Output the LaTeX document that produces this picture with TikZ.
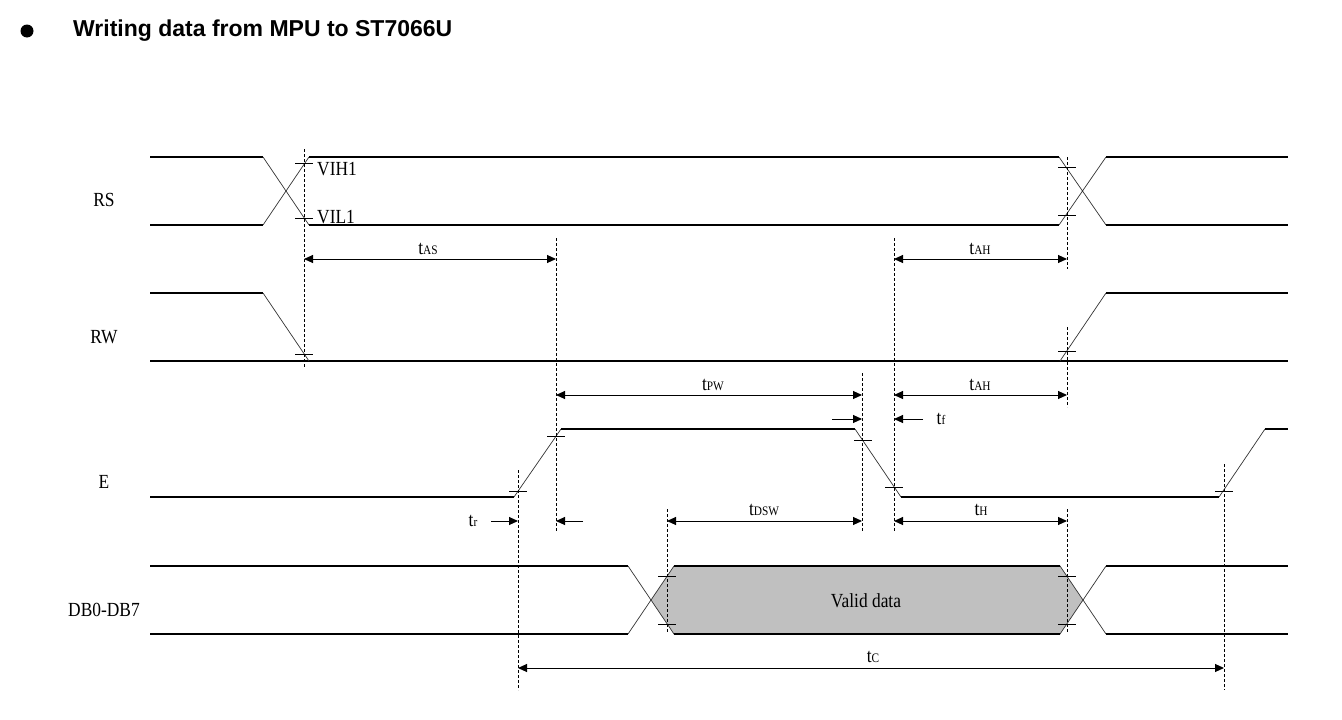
\documentclass[tikz,border=0pt]{standalone}
\usepackage{fontspec}
\usepackage{tikz}
\usetikzlibrary{arrows.meta}
\usetikzlibrary{shapes}
\newfontfamily\lblfont[FakeStretch=0.87]{Liberation Serif}
\newfontfamily\ttlfont{Liberation Sans}
\definecolor{datagray}{RGB}{192,192,192}
\newcommand{\tsig}[1]{t{\fontsize{13}{13}\selectfont #1}}
\begin{document}
\begin{tikzpicture}[x=1pt,y=-1pt,
			sig/.style={line width=1.2pt,black},
			edge/.style={line width=0.7pt,black!80},
			guide/.style={line width=0.8pt,dash pattern=on 3pt off 2pt},
			tick/.style={line width=0.8pt},
			dim/.style={line width=1pt,{Triangle[length=9pt,width=8pt]}-{Triangle[length=9pt,width=8pt]}},
			push/.style={line width=1pt,-{Triangle[length=9pt,width=8pt]}},
			every node/.style={font=\lblfont\fontsize{20}{20}\selectfont,inner sep=0pt}]
			\useasboundingbox (0,0) rectangle (1342,720);
			
			% title
			\node[circle,fill,minimum size=13pt] (bul) at (27,31) {};
			\node[anchor=west,font=\ttlfont\bfseries\fontsize{23}{23}\selectfont] (title) at (73,31) {Writing data from MPU to ST7066U};
			
			% signal names
			\node (rs) at (104,200) {RS};
			\node (rw) at (104,337) {RW};
			\node (en) at (104,482) {E};
			\node (db) at (104,610) {DB0-DB7};
			
			% RS
			\draw[sig] (150,157) -- (263,157) (150,225) -- (263,225);
			\draw[edge] (263,157) -- (309,225) (263,225) -- (309,157);
			\draw[sig] (309,157) -- (1059,157) (309,225) -- (1059,225);
			\draw[edge] (1059,157) -- (1106,225) (1059,225) -- (1106,157);
			\draw[sig] (1106,157) -- (1288,157) (1106,225) -- (1288,225);
			\node[anchor=west] (vih) at (317,169) {VIH1};
			\node[anchor=west] (vil) at (317,217) {VIL1};
			
			% RW
			\draw[sig] (150,293) -- (263,293) (150,361) -- (1288,361);
			\draw[edge] (263,293) -- (309,361) (1060,361) -- (1106,293);
			\draw[sig] (1106,293) -- (1288,293);
			
			% E
			\draw[sig] (150,497) -- (514,497);
			\draw[edge] (514,497) -- (561,429);
			\draw[sig] (561,429) -- (855,429);
			\draw[edge] (855,429) -- (901,497);
			\draw[sig] (901,497) -- (1219,497);
			\draw[edge] (1219,497) -- (1265,429);
			\draw[sig] (1265,429) -- (1288,429);
			
			% DB0-DB7
			\draw[sig] (150,566) -- (628,566) (150,634) -- (628,634);
			\draw[edge] (628,566) -- (651,600) (628,634) -- (651,600);
			\draw[edge,fill=datagray] (651,600) -- (674,566) -- (1060,566) -- (1083,600) -- (1060,634) -- (674,634) -- cycle;
			\draw[sig] (674,566) -- (1060,566) (674,634) -- (1060,634);
			\draw[edge] (1083,600) -- (1106,634) (1083,600) -- (1106,566);
			\draw[sig] (1106,566) -- (1288,566) (1106,634) -- (1288,634);
			\node (valid) at (866,601) {Valid data};
			
			% level marks
			\foreach \x/\y in {304/163,304/218,1067/167,1067/215,304/354,1067/351,
				518/491,556/436,863/440,894/487,1224/491,667/576,667/624,1067/576,1067/624}
			\draw[tick] (\x-9,\y) -- (\x+9,\y);
			
			% guides
			\foreach \x/\a/\b in {304/149/368,556/238/532,894/238/532,862/373/532,
				1067/157/269,1067/327/407,1067/509/632,518/470/690,667/509/632,1224/464/690}
			\draw[guide] (\x,\a) -- (\x,\b);
			
			% timing
			\coordinate (as1) at (304,259); \coordinate (as2) at (556,259);
			\coordinate (ah1) at (894,259); \coordinate (ah2) at (1067,259);
			\coordinate (pw1) at (556,395); \coordinate (pw2) at (862,395);
			\coordinate (ah3) at (894,395); \coordinate (ah4) at (1067,395);
			\coordinate (f1) at (832,419); \coordinate (f2) at (862,419);
			\coordinate (f3) at (923,419); \coordinate (f4) at (894,419);
			\coordinate (r1) at (491,521); \coordinate (r2) at (518,521);
			\coordinate (r3) at (583,521); \coordinate (r4) at (556,521);
			\coordinate (dsw1) at (667,521); \coordinate (dsw2) at (862,521);
			\coordinate (h1) at (894,521); \coordinate (h2) at (1067,521);
			\coordinate (c1) at (518,668); \coordinate (c2) at (1224,668);
			
			\draw[dim] (as1) -- (as2);
			\draw[dim] (ah1) -- (ah2);
			\draw[dim] (pw1) -- (pw2);
			\draw[dim] (ah3) -- (ah4);
			\draw[push] (f1) -- (f2);
			\draw[push] (f3) -- (f4);
			\draw[push] (r1) -- (r2);
			\draw[push] (r3) -- (r4);
			\draw[dim] (dsw1) -- (dsw2);
			\draw[dim] (h1) -- (h2);
			\draw[dim] (c1) -- (c2);
			
			\node (tas) at (428,249) {\tsig{AS}};
			\node (tah) at (980,249) {\tsig{AH}};
			\node (tpw) at (713,385) {\tsig{PW}};
			\node (tah2) at (980,385) {\tsig{AH}};
			\node (tf) at (941,419) {\tsig{f}};
			\node (tr) at (473,521) {\tsig{r}};
			\node (tdsw) at (764,510) {\tsig{DSW}};
			\node (th) at (981,510) {\tsig{H}};
			\node (tc) at (873,657) {\tsig{C}};
		\end{tikzpicture}
\end{document}
